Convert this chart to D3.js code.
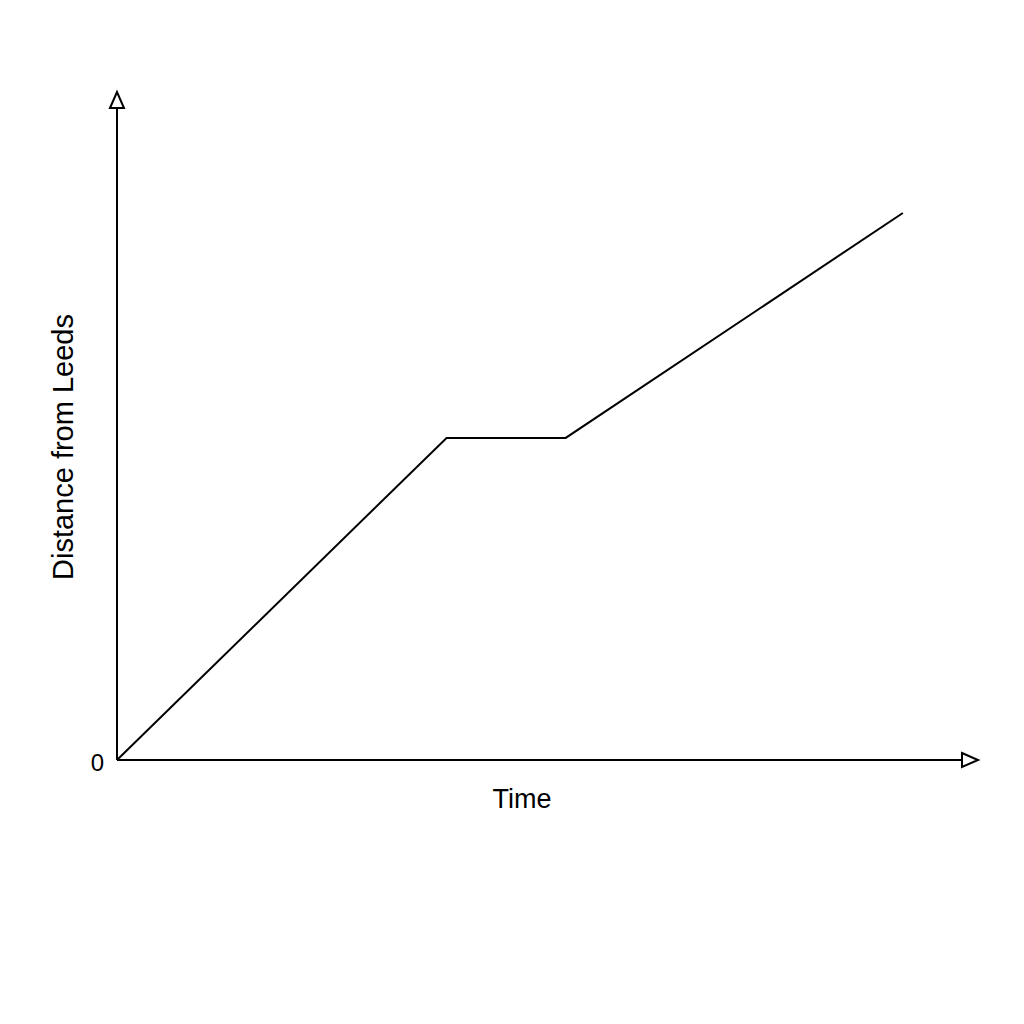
<!DOCTYPE html>
<html>
<head>
<meta charset="utf-8">
<script src="https://cdn.jsdelivr.net/npm/d3@7"></script>
<style>
  html, body { margin: 0; padding: 0; background: #fff; }
  svg { display: block; }
</style>
</head>
<body>
<svg id="chart" width="1024" height="1024"></svg>
<script>
// distance-time graph: drive out of Leeds, stop, carry on slower
const times = [0, 39, 53.1, 93];
const distances = [0, 49.4, 49.4, 83.9];
const xLabel = 'Time';
const yLabel = 'Distance from Leeds';
const originLabel = '0';

const W = 1024, H = 1024;
const ox = 117, oy = 760;       // origin
const xEnd = 962, yEnd = 108;   // where the arrowheads start

const svg = d3.select('#chart');
svg.append('rect').attr('width', W).attr('height', H).attr('fill', '#fff');

const x = d3.scaleLinear().domain([0, 100]).range([ox, xEnd]);
const y = d3.scaleLinear().domain([0, 100]).range([oy, yEnd]);

// axes with open triangle heads
const ax = svg.append('g')
  .attr('stroke', '#000').attr('stroke-width', 2).attr('fill', 'none');
ax.append('line').attr('x1', x(0)).attr('y1', y(0)).attr('x2', x(100)).attr('y2', y(0));
ax.append('line').attr('x1', x(0)).attr('y1', y(0)).attr('x2', x(0)).attr('y2', y(100));
ax.append('path')
  .attr('d', `M${x(100)},${y(0) - 7}L${x(100) + 16},${y(0)}L${x(100)},${y(0) + 7}Z`)
  .attr('fill', '#fff').attr('stroke-linejoin', 'miter');
ax.append('path')
  .attr('d', `M${x(0) - 7},${y(100)}L${x(0)},${y(100) - 16}L${x(0) + 7},${y(100)}Z`)
  .attr('fill', '#fff').attr('stroke-linejoin', 'miter');

// journey
const pts = times.map((t, i) => [t, distances[i]]);
svg.append('path')
  .datum(pts)
  .attr('d', d3.line().x(d => x(d[0])).y(d => y(d[1])))
  .attr('fill', 'none').attr('stroke', '#000').attr('stroke-width', 2)
  .attr('stroke-linejoin', 'miter');

// text
const font = '"Liberation Sans", Arial, sans-serif';
svg.append('text').text(originLabel)
  .attr('x', 104).attr('y', 771).attr('text-anchor', 'end')
  .attr('font-family', font).attr('font-size', 24).attr('fill', '#000');
svg.append('text').text(xLabel)
  .attr('x', 522).attr('y', 808).attr('text-anchor', 'middle')
  .attr('font-family', font).attr('font-size', 27).attr('fill', '#000');
svg.append('text').text(yLabel)
  .attr('transform', 'translate(73,447) rotate(-90)').attr('text-anchor', 'middle')
  .attr('font-family', font).attr('font-size', 29).attr('fill', '#000');
</script>
</body>
</html>
